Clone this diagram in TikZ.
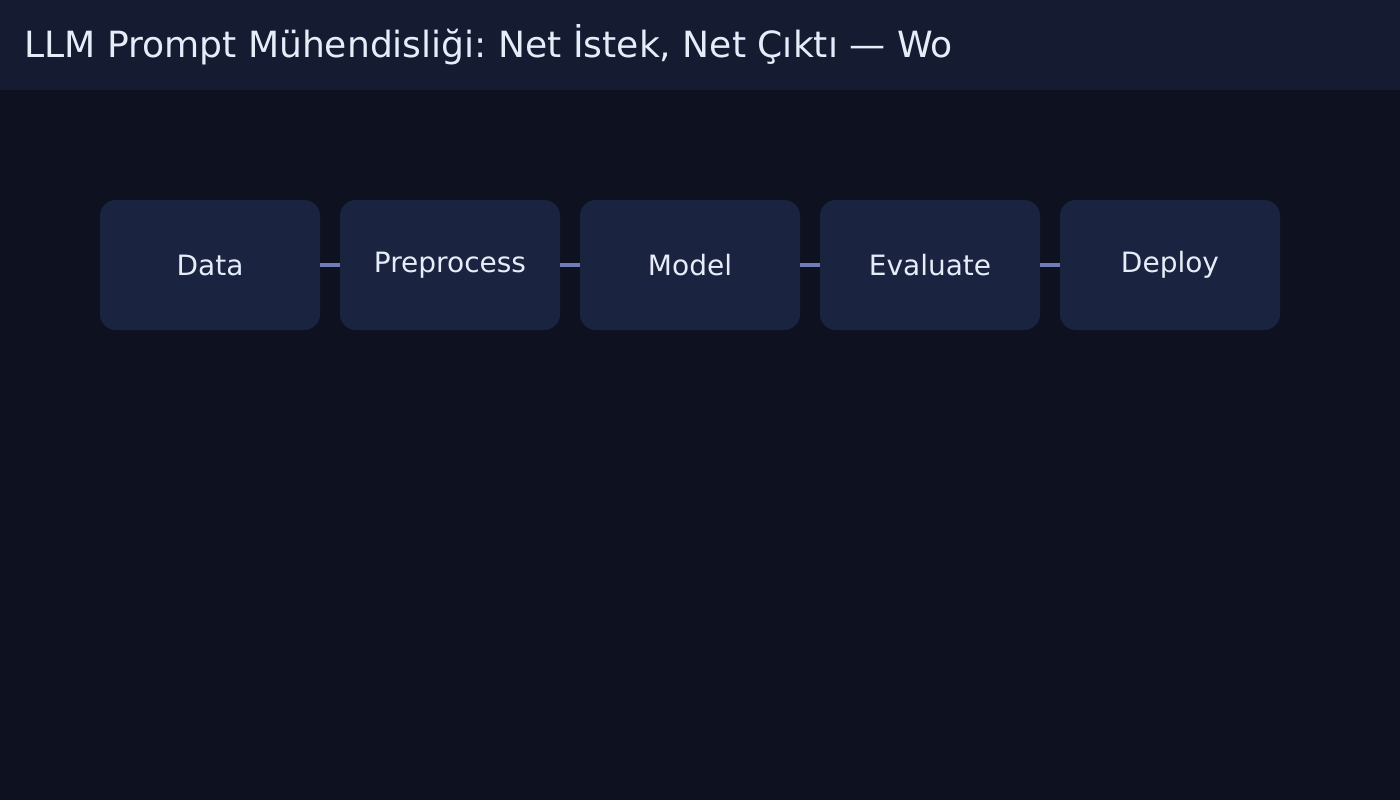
\documentclass[tikz,border=0pt]{standalone}
\usepackage{fontspec}
\setmainfont{DejaVu Sans}
\frenchspacing
\usetikzlibrary{positioning}
\definecolor{bgcol}{HTML}{0E1220}
\definecolor{barcol}{HTML}{151B30}
\definecolor{boxcol}{HTML}{1A2440}
\definecolor{txtcol}{HTML}{E6ECF8}
\definecolor{linkcol}{HTML}{6E7DB5}
\tikzset{stage/.style={fill=boxcol, rounded corners=16pt, minimum width=220pt, minimum height=130pt, inner sep=0pt, outer sep=0pt, text=txtcol, font=\fontsize{28}{34}\selectfont}}
\tikzset{link/.style={draw=linkcol, line width=3.5pt}}

\begin{document}
\begin{tikzpicture}[x=1pt, y=-1pt]
        \fill [bgcol] (0,0) rectangle (1400,800);
        \fill [barcol] (0,0) rectangle (1400,90);
        \node (title) [anchor=base west, inner sep=0pt, text=txtcol, font=\fontsize{36.1}{42}\selectfont] at (24,58) {LLM Prompt Mühendisliği: Net İstek, Net Çıktı — Wo};
        \node (data) [stage, anchor=north west] at (100,200) {Data};
        \node (prep) [stage, right=20pt of data] {Preprocess};
        \node (model) [stage, right=20pt of prep] {Model};
        \node (eval) [stage, right=20pt of model] {Evaluate};
        \node (deploy) [stage, right=20pt of eval] {Deploy};
        \draw [link] (data) -- (prep);
        \draw [link] (prep) -- (model);
        \draw [link] (model) -- (eval);
        \draw [link] (eval) -- (deploy);
    \end{tikzpicture}
\end{document}
